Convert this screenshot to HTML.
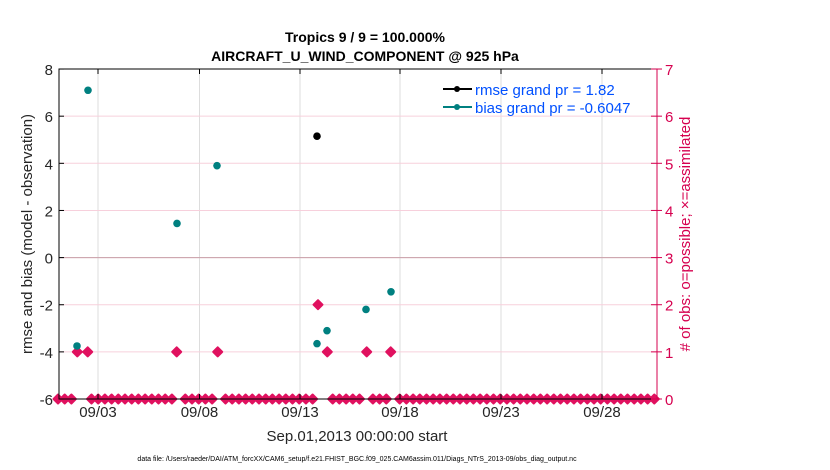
<!DOCTYPE html>
<html><head><meta charset="utf-8"><style>
body{margin:0;background:#fff}
svg{display:block;font-family:"Liberation Sans",sans-serif}
</style></head><body>
<svg width="830" height="470" viewBox="0 0 830 470" xmlns="http://www.w3.org/2000/svg">
<rect width="830" height="470" fill="#fff"/>
<g id="grid"></g>
<g id="data"></g>
<rect x="59" y="69" width="598" height="330" fill="none" stroke="#000" stroke-width="1"/>
<line x1="657" y1="69" x2="657" y2="399" stroke="#d6004f" stroke-width="1"/>
<g id="ticks"></g>
<text x="365" y="42" text-anchor="middle" font-size="14" font-weight="bold">Tropics 9 / 9 = 100.000%</text>
<text x="365" y="61" text-anchor="middle" font-size="14" font-weight="bold">AIRCRAFT_U_WIND_COMPONENT @ 925 hPa</text>
<text x="357" y="441" text-anchor="middle" font-size="15" fill="#262626">Sep.01,2013 00:00:00 start</text>
<text x="357" y="461" text-anchor="middle" font-size="7" fill="#000">data file: /Users/raeder/DAI/ATM_forcXX/CAM6_setup/f.e21.FHIST_BGC.f09_025.CAM6assim.011/Diags_NTrS_2013-09/obs_diag_output.nc</text>
<text transform="translate(32,234) rotate(-90)" text-anchor="middle" font-size="15" fill="#262626">rmse and bias (model - observation)</text>
<text transform="translate(690,234) rotate(-90)" text-anchor="middle" font-size="15" fill="#d6004f"># of obs: o=possible; ×=assimilated</text>
<g font-size="15" fill="#0050ff">
<line x1="443" y1="89" x2="472" y2="89" stroke="#000" stroke-width="2"/><circle cx="457" cy="89" r="3" fill="#000"/>
<text x="475" y="95">rmse grand pr = 1.82</text>
<line x1="443" y1="107" x2="472" y2="107" stroke="#008080" stroke-width="2"/><circle cx="457" cy="107" r="3" fill="#008080"/>
<text x="475" y="113">bias grand pr = -0.6047</text>
</g>
</svg>
<script>
(function(){
var NS="http://www.w3.org/2000/svg";
function el(p,t,a,txt){var e=document.createElementNS(NS,t);for(var k in a)e.setAttribute(k,a[k]);if(txt!==undefined)e.textContent=txt;document.getElementById(p).appendChild(e);return e;}
function yl(v){return 257.6-23.57*v;}
function yr(v){return 399-47.14*v;}
var xt=[[98,"09/03"],[199.5,"09/08"],[300,"09/13"],[400,"09/18"],[501,"09/23"],[602,"09/28"]];
xt.forEach(function(t){el("grid","line",{x1:t[0],y1:69,x2:t[0],y2:399,stroke:"#ddd","stroke-width":1});
el("ticks","line",{x1:t[0],y1:399,x2:t[0],y2:394,stroke:"#000"});el("ticks","line",{x1:t[0],y1:69,x2:t[0],y2:74,stroke:"#000"});
el("ticks","text",{x:t[0],y:417,"text-anchor":"middle","font-size":15,fill:"#262626"},t[1]);});
for(var k=0;k<=7;k++){var y=yr(k);if(k>0&&k<7)el("grid","line",{x1:59,y1:y,x2:657,y2:y,stroke:"#f7d0dc","stroke-width":1});
el("ticks","line",{x1:651,y1:y,x2:662,y2:y,stroke:"#d6004f"});
el("ticks","text",{x:665,y:y+6,"font-size":15,fill:"#d6004f"},k);}
for(var v=-6;v<=8;v+=2){var y2=yl(v);el("ticks","line",{x1:59,y1:y2,x2:64,y2:y2,stroke:"#000"});
el("ticks","text",{x:53,y:y2+6,"text-anchor":"end","font-size":15,fill:"#262626"},v);}
el("data","line",{x1:59,y1:yl(0),x2:657,y2:yl(0),stroke:"#c8a0a8","stroke-width":1});
var tops=[[77.3,1],[87.7,1],[176.7,1],[217.7,1],[318,2],[327.3,1],[366.7,1],[390.7,1]];
function dia(x,y){el("data","polygon",{points:(x-4.5)+","+y+" "+x+","+(y-4.5)+" "+(x+4.5)+","+y+" "+x+","+(y+4.5),fill:"#e0115f",stroke:"#e0115f","stroke-width":2,"stroke-linejoin":"round"});}
for(var i=0;i<90;i++){var x=58+6.7*i,skip=false;tops.forEach(function(t){if(Math.abs(t[0]-x)<3.4)skip=true;});if(!skip)dia(x,399);}
tops.forEach(function(t){dia(t[0],yr(t[1]));});
var bias=[[77,-3.75],[88,7.1],[177,1.45],[217,3.9],[317,-3.65],[327,-3.1],[366,-2.2],[391,-1.45]];
bias.forEach(function(b){el("data","circle",{cx:b[0],cy:yl(b[1]),r:3.8,fill:"#008080"});});
el("data","circle",{cx:317,cy:yl(5.15),r:3.8,fill:"#000"});
})();
</script>
</body></html>
